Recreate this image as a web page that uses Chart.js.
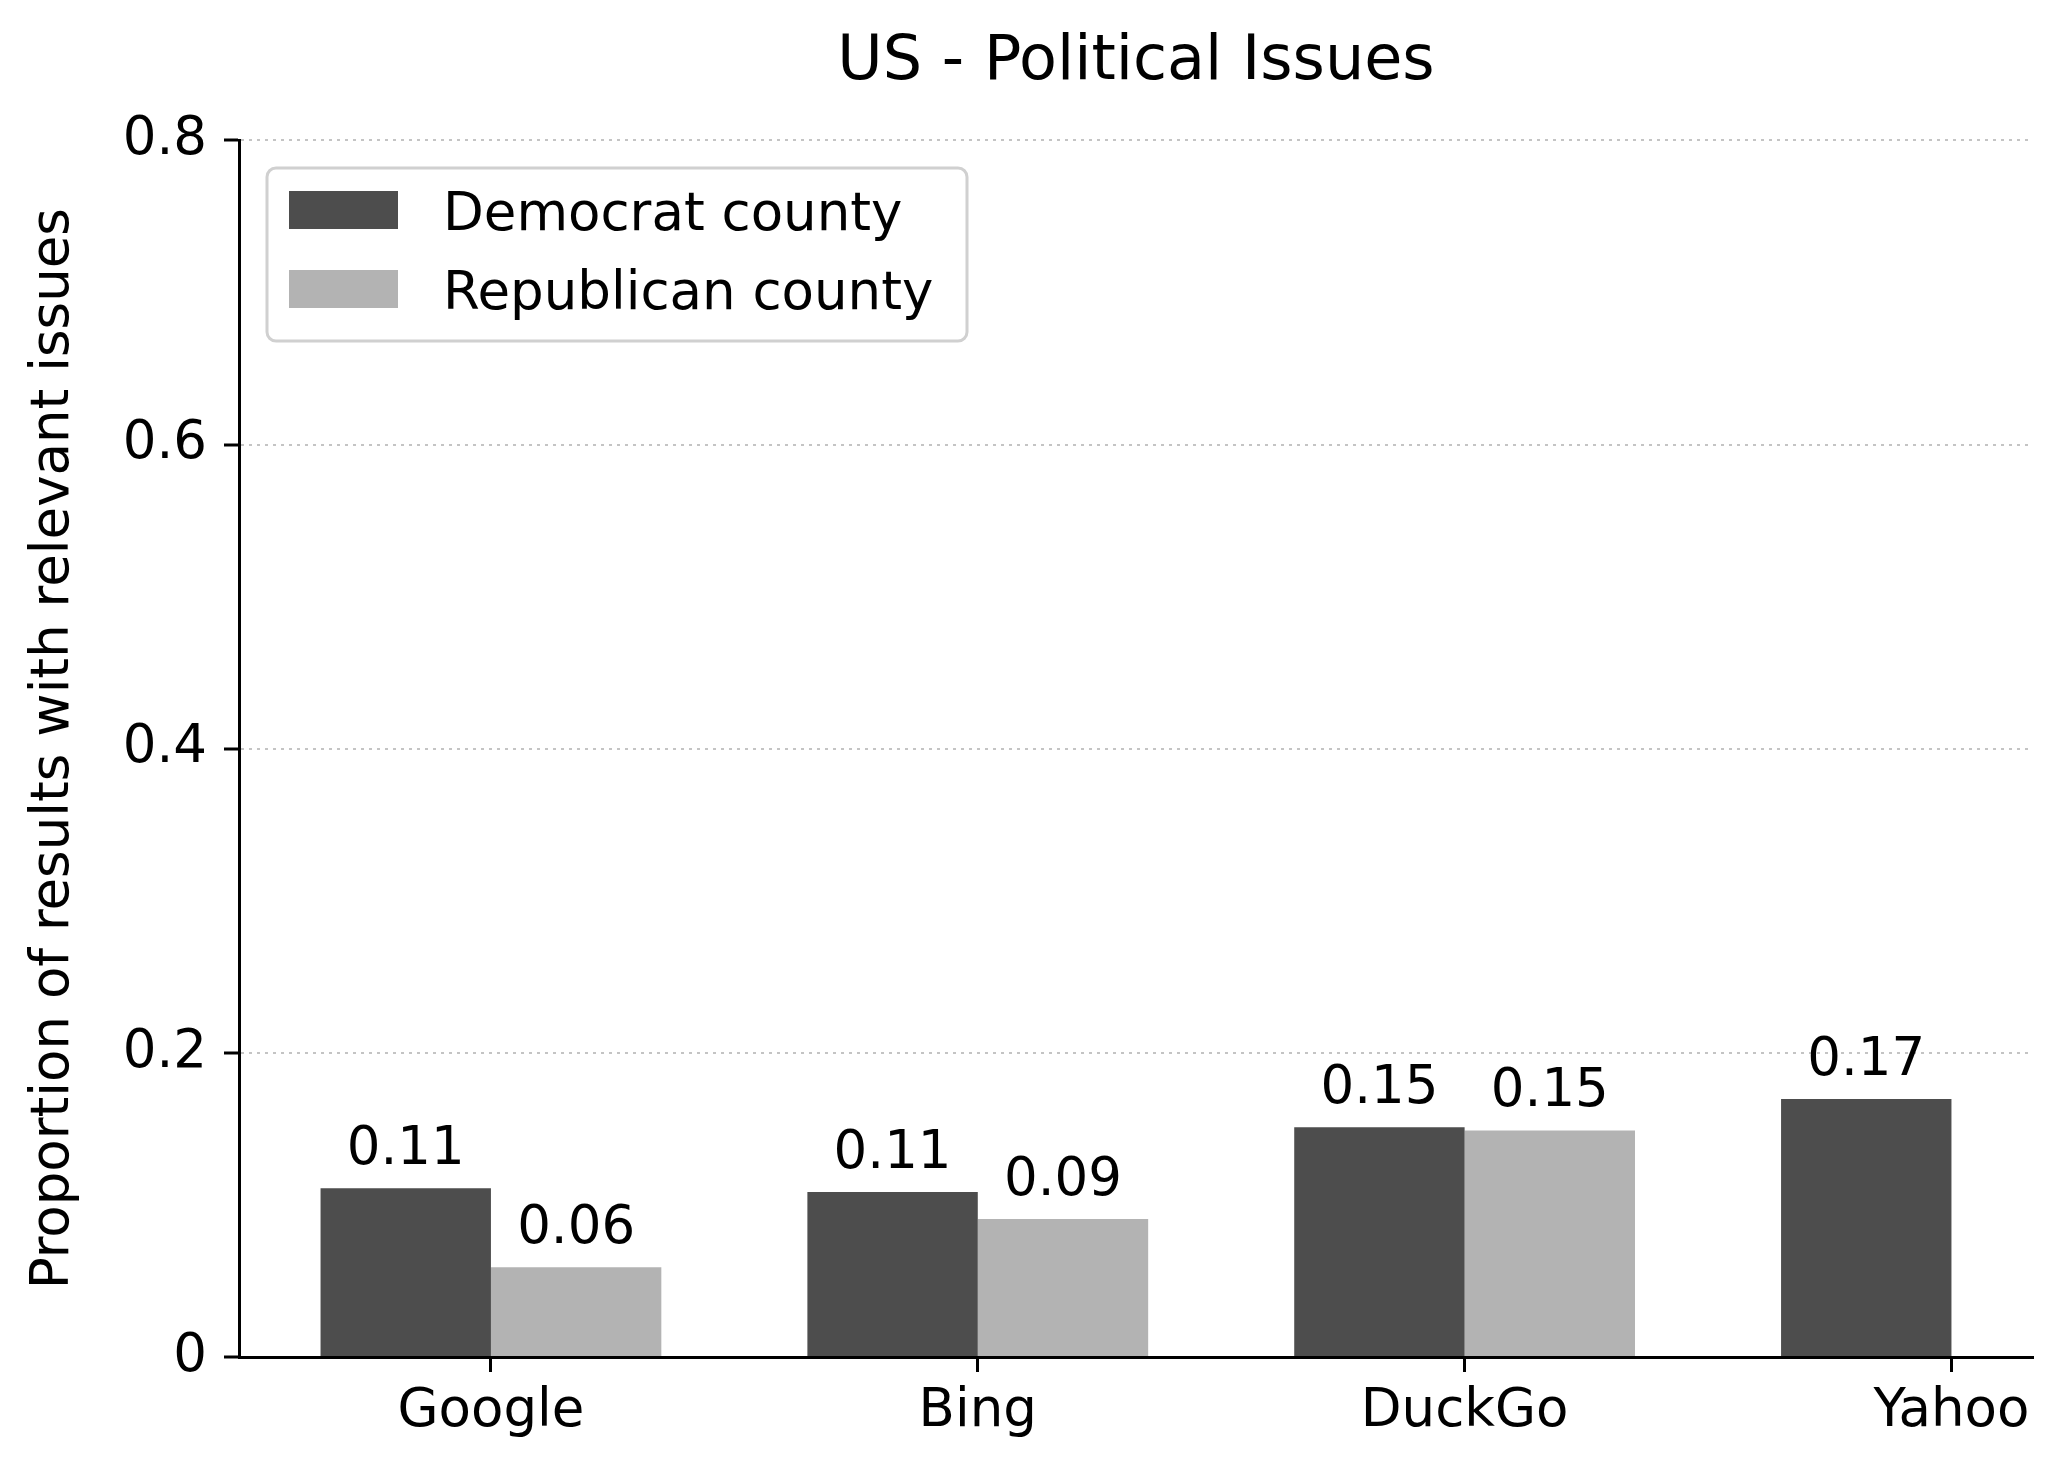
<!DOCTYPE html>
<html>
<head>
<meta charset="utf-8">
<script src="https://cdn.jsdelivr.net/npm/chart.js@4.4.1/dist/chart.umd.min.js"></script>
<style>
  html, body { margin: 0; padding: 0; background: #ffffff; }
  #wrap { width: 2063px; height: 1467px; position: relative; }
</style>
</head>
<body>
<div id="wrap"><canvas id="barChart"></canvas></div>
<script>
// Datos
const engines = ['Google', 'Bing', 'DuckGo', 'Yahoo'];
const democratValues = [0.111, 0.1085, 0.151, 0.1696];
const republicanValues = [0.059, 0.0907, 0.149, null];
const yTicks = [0, 0.2, 0.4, 0.6, 0.8];
const seriesNames = ['Democrat county', 'Republican county'];
const seriesColors = ['#4d4d4d', '#b3b3b3'];

Chart.defaults.devicePixelRatio = 1;
Chart.defaults.font.family = "'DejaVu Sans', sans-serif";
Chart.defaults.color = '#000000';

const toPoints = vals => vals.map((v, i) => ({ x: i, y: v }));

// Etiquetas de valor encima de cada barra
const barLabels = {
    id: 'barLabels',
    afterDatasetsDraw(chart) {
        const ctx = chart.ctx;
        ctx.save();
        ctx.font = "53px 'DejaVu Sans'";
        ctx.fillStyle = '#000';
        ctx.textAlign = 'center';
        ctx.textBaseline = 'alphabetic';
        chart.data.datasets.forEach((ds, di) => {
            chart.getDatasetMeta(di).data.forEach((bar, i) => {
                const v = ds.data[i].y;
                if (v === null || v === undefined) return;
                ctx.fillText(v.toFixed(2), bar.x, bar.y - 24);
            });
        });
        ctx.restore();
    }
};

// Leyenda con marco redondeado (estilo matplotlib)
const boxLegend = {
    id: 'boxLegend',
    afterDraw(chart) {
        const ctx = chart.ctx;
        const x0 = 267, y0 = 168, w = 700, h = 173, r = 9;
        ctx.save();
        ctx.beginPath();
        ctx.roundRect(x0, y0, w, h, r);
        ctx.fillStyle = 'rgba(255,255,255,0.8)';
        ctx.fill();
        ctx.lineWidth = 3;
        ctx.strokeStyle = '#d0d0d0';
        ctx.stroke();
        ctx.font = "53px 'DejaVu Sans'";
        ctx.textAlign = 'left';
        ctx.textBaseline = 'alphabetic';
        chart.data.datasets.forEach((ds, i) => {
            const cy = 210 + i * 79;
            ctx.fillStyle = ds.backgroundColor;
            ctx.fillRect(289, cy - 19, 109, 38);
            ctx.fillStyle = '#000';
            ctx.fillText(ds.label, 443, cy + 20);
        });
        ctx.restore();
    }
};

const ctx = document.getElementById('barChart').getContext('2d');
new Chart(ctx, {
    type: 'bar',
    data: {
        datasets: [
            { label: seriesNames[0], data: toPoints(democratValues), backgroundColor: seriesColors[0] },
            { label: seriesNames[1], data: toPoints(republicanValues), backgroundColor: seriesColors[1] }
        ]
    },
    options: {
        responsive: true,
        maintainAspectRatio: false,
        animation: false,
        categoryPercentage: 0.7,
        barPercentage: 1.0,
        layout: { padding: { top: 0, left: 0, right: 30, bottom: 0 } },
        plugins: {
            legend: { display: false },
            tooltip: { enabled: false },
            title: {
                display: true,
                fullSize: false,
                text: 'US - Political Issues',
                font: { size: 62, weight: 'normal' },
                color: '#000',
                padding: { top: 26, bottom: 40 }
            }
        },
        scales: {
            x: {
                type: 'linear',
                offset: false,
                min: -0.5175,
                max: 3.1675,
                afterBuildTicks: scale => { scale.ticks = engines.map((_, i) => ({ value: i })); },
                afterFit: scale => { scale.height = 110; },
                ticks: {
                    callback: v => engines[v],
                    font: { size: 53 },
                    color: '#000',
                    padding: 8,
                    maxRotation: 0,
                    autoSkip: false
                },
                grid: {
                    offset: false,
                    drawOnChartArea: false,
                    drawTicks: true,
                    tickLength: 15,
                    tickWidth: 3,
                    tickColor: '#000'
                },
                border: { display: true, color: '#000', width: 3 }
            },
            y: {
                min: 0,
                max: 0.8,
                afterBuildTicks: scale => { scale.ticks = yTicks.map(v => ({ value: v })); },
                afterFit: scale => { scale.width = 239; },
                ticks: {
                    callback: v => (v === 0 ? '0' : v.toFixed(1)),
                    font: { size: 53 },
                    color: '#000',
                    padding: 17
                },
                grid: {
                    color: c => (c.tick && c.tick.value === 0 ? 'rgba(0,0,0,0)' : '#c4c4c4'),
                    lineWidth: 2,
                    drawTicks: true,
                    tickLength: 15,
                    tickWidth: 3,
                    tickColor: '#000'
                },
                border: { display: true, color: '#000', width: 3, dash: [3, 5] },
                title: {
                    display: true,
                    text: 'Proportion of results with relevant issues',
                    font: { size: 53 },
                    color: '#000',
                    padding: { top: 22, bottom: 0 }
                }
            }
        }
    },
    plugins: [barLabels, boxLegend]
});
</script>
</body>
</html>
